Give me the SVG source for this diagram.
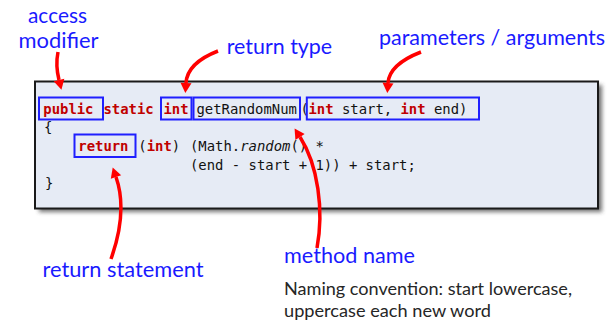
<svg xmlns="http://www.w3.org/2000/svg" width="615" height="320" viewBox="0 0 615 320">
<defs>
<filter id="sh" x="-5%" y="-10%" width="110%" height="130%"><feGaussianBlur stdDeviation="2"/></filter>
<marker id="ah" markerUnits="userSpaceOnUse" markerWidth="12" markerHeight="12" refX="0" refY="5.5" orient="auto" overflow="visible">
<path d="M0,0 L10,5.5 L0,11 Z" fill="#ff0000"/>
</marker>
<style>
.lbl{font-family:Lato,"Open Sans",sans-serif;font-size:22px;fill:#1a1aff}
.note{font-family:Lato,"Open Sans",sans-serif;font-size:17.5px;fill:#262626}
.code{font-family:"DejaVu Sans Mono","Liberation Mono",monospace;font-size:13.9px;fill:#111}
.kw{fill:#c00000;font-weight:bold}
.hl{fill:none;stroke:#1f1fff;stroke-width:2}
.arr{fill:none;stroke:#ff0000;stroke-width:3.5;marker-end:url(#ah)}
</style>
</defs>
<g id="codebox">
<rect x="39" y="85" width="563" height="127" fill="#444" opacity="0.75" filter="url(#sh)"/>
<rect x="35" y="81.5" width="563" height="127" fill="#e6ebf5" stroke="#1a1a1a" stroke-width="2"/>
<text class="code" y="113.5"><tspan class="kw" x="43.3">public</tspan><tspan class="kw" x="103.5">static</tspan><tspan class="kw" x="163.5">int</tspan><tspan x="196.5">getRandomNum</tspan><tspan x="300.5">(</tspan><tspan class="kw" x="308.5">int</tspan><tspan> start, </tspan><tspan class="kw">int</tspan><tspan> end)</tspan></text>
<text class="code" x="44" y="132">{</text>
<text class="code" y="151"><tspan class="kw" x="78.3">return</tspan><tspan x="138.3">(</tspan><tspan class="kw">int</tspan><tspan>)</tspan><tspan x="190">(Math.</tspan><tspan font-style="italic">random</tspan><tspan>() *</tspan></text>
<text class="code" x="190" y="169.5">(end - start + 1)) + start;</text>
<text class="code" x="45" y="188" fill="#777">}</text>
</g>
<g id="highlights">
<rect class="hl" x="39" y="97.5" width="64" height="22"/>
<rect class="hl" x="161" y="97.5" width="30.5" height="22"/>
<rect class="hl" x="193.5" y="97.5" width="106.5" height="22"/>
<rect class="hl" x="306.8" y="97.5" width="172.2" height="22"/>
<rect class="hl" x="74.5" y="134.5" width="61" height="22.5"/>
</g>
<g id="labels">
<text class="lbl" x="28" y="22.7" textLength="59" lengthAdjust="spacingAndGlyphs">access</text>
<text class="lbl" x="18.5" y="48.3" textLength="80" lengthAdjust="spacingAndGlyphs">modifier</text>
<text class="lbl" x="226.7" y="54.3" textLength="105.5" lengthAdjust="spacingAndGlyphs">return type</text>
<text class="lbl" x="379" y="45" textLength="226" lengthAdjust="spacingAndGlyphs">parameters / arguments</text>
<text class="lbl" x="42.5" y="277" textLength="161" lengthAdjust="spacingAndGlyphs">return statement</text>
<text class="lbl" x="284" y="263" textLength="131" lengthAdjust="spacingAndGlyphs">method name</text>
<text class="note" x="284" y="295" textLength="288" lengthAdjust="spacingAndGlyphs">Naming convention: start lowercase,</text>
<text class="note" x="284" y="317" textLength="207" lengthAdjust="spacingAndGlyphs">uppercase each new word</text>
</g>
<g id="connectors">
<path class="arr" d="M58,52 C56,62 57,72 59,80"/>
<path class="arr" d="M218,51 C200,58 187,68 186,83"/>
<path class="arr" d="M421,52 C403,59 389,69 388,83"/>
<path class="arr" d="M111,259 C122,228 124,200 116,177"/>
<path class="arr" d="M317,248 C324,210 318,165 300,137"/>
</g>
</svg>
